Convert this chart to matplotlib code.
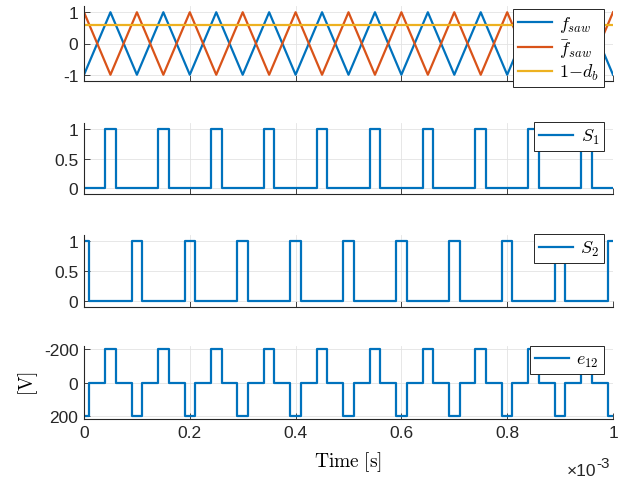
import numpy as np
import matplotlib
matplotlib.use("Agg")
import matplotlib.pyplot as plt
from matplotlib.ticker import FuncFormatter
from matplotlib.font_manager import FontProperties

plt.rcParams['font.family'] = ['Liberation Sans', 'DejaVu Sans']
plt.rcParams['mathtext.fontset'] = 'custom'
plt.rcParams['mathtext.rm'] = 'Liberation Sans'
plt.rcParams['mathtext.it'] = 'Liberation Sans:italic'
plt.rcParams['axes.unicode_minus'] = False

# carrier vertices (time in ms)
t_tri = [0.00, 0.05, 0.10, 0.15, 0.20, 0.25, 0.30, 0.35, 0.40, 0.45, 0.50,
         0.55, 0.60, 0.65, 0.70, 0.75, 0.80, 0.85, 0.90, 0.95, 1.00]
f_saw = [-1, 1, -1, 1, -1, 1, -1, 1, -1, 1, -1,
         1, -1, 1, -1, 1, -1, 1, -1, 1, -1]
fbar_saw = [1, -1, 1, -1, 1, -1, 1, -1, 1, -1, 1,
            -1, 1, -1, 1, -1, 1, -1, 1, -1, 1]
t_db = [0.0, 1.0]
one_minus_db = [0.6, 0.6]

# switching instants (ms) and levels after each instant
t_s1 = [0.00, 0.04, 0.06, 0.14, 0.16, 0.24, 0.26, 0.34, 0.36, 0.44, 0.46,
        0.54, 0.56, 0.64, 0.66, 0.74, 0.76, 0.84, 0.86, 0.94, 0.96, 1.00]
s1 = [0, 1, 0, 1, 0, 1, 0, 1, 0, 1, 0, 1, 0, 1, 0, 1, 0, 1, 0, 1, 0, 0]

t_s2 = [0.00, 0.01, 0.09, 0.11, 0.19, 0.21, 0.29, 0.31, 0.39, 0.41, 0.49,
        0.51, 0.59, 0.61, 0.69, 0.71, 0.79, 0.81, 0.89, 0.91, 0.99, 1.00]
s2 = [1, 0, 1, 0, 1, 0, 1, 0, 1, 0, 1, 0, 1, 0, 1, 0, 1, 0, 1, 0, 1, 1]

t_e12 = [0.00, 0.01, 0.04, 0.06, 0.09, 0.11, 0.14, 0.16, 0.19, 0.21, 0.24,
         0.26, 0.29, 0.31, 0.34, 0.36, 0.39, 0.41, 0.44, 0.46, 0.49, 0.51,
         0.54, 0.56, 0.59, 0.61, 0.64, 0.66, 0.69, 0.71, 0.74, 0.76, 0.79,
         0.81, 0.84, 0.86, 0.89, 0.91, 0.94, 0.96, 0.99, 1.00]
e12 = [200, 0, -200, 0, 200, 0, -200, 0, 200, 0, -200,
       0, 200, 0, -200, 0, 200, 0, -200, 0, 200, 0,
       -200, 0, 200, 0, -200, 0, 200, 0, -200, 0, 200,
       0, -200, 0, 200, 0, -200, 0, 200, 200]

blue, orange, yellow = '#0072BD', '#D95319', '#EDB120'
dark = '#262626'
ms = 1e-3

fig = plt.figure(figsize=(6.28, 4.81), dpi=100)
W, H = 628, 481
boxes = [(7, 82), (124, 195), (236, 308), (347, 420)]
axes = []
for top, bot in boxes:
    ax = fig.add_axes([84 / W, 1 - bot / H, 529 / W, (bot - top) / H])
    axes.append(ax)
ax1, ax2, ax3, ax4 = axes

lw = 1.6
ax1.plot(np.array(t_tri) * ms, f_saw, color=blue, lw=lw, label=r'$f_{saw}$')
ax1.plot(np.array(t_tri) * ms, fbar_saw, color=orange, lw=lw, label=r'$\bar{f}_{saw}$')
ax1.plot(np.array(t_db) * ms, one_minus_db, color=yellow, lw=lw, label=r'$1{-}d_b$')
ax2.plot(np.array(t_s1) * ms, s1, color=blue, lw=lw, drawstyle='steps-post', label=r'$S_1$')
ax3.plot(np.array(t_s2) * ms, s2, color=blue, lw=lw, drawstyle='steps-post', label=r'$S_2$')
ax4.plot(np.array(t_e12) * ms, e12, color=blue, lw=lw, drawstyle='steps-post', label=r'$e_{12}$')

ax1.set_ylim(-1.2, 1.2)
ax1.set_yticks([-1, 0, 1])
for ax in (ax2, ax3):
    ax.set_ylim(-0.1, 1.1)
    ax.set_yticks([0, 0.5, 1])
ax4.set_ylim(220, -220)
ax4.set_yticks([-200, 0, 200])

fmt = FuncFormatter(lambda v, p: f'{v:g}')
for ax in axes:
    ax.set_xlim(0, 1e-3)
    ax.set_xticks(np.arange(0, 1.01, 0.2) * ms)
    ax.yaxis.set_major_formatter(fmt)
    ax.grid(True, color='#e3e3e3', lw=0.6)
    ax.set_axisbelow(True)
    for s in ('top', 'right'):
        ax.spines[s].set_visible(False)
    for s in ('left', 'bottom'):
        ax.spines[s].set_color(dark)
        ax.spines[s].set_linewidth(0.8)
    ax.tick_params(direction='in', length=4, width=0.6, colors=dark,
                   labelsize=12.5, pad=4)
    if ax is not ax4:
        ax.tick_params(labelbottom=False)
ax4.xaxis.set_major_formatter(FuncFormatter(lambda v, p: f'{v / ms:g}'))

cm = {'math_fontfamily': 'cm'}
ax4.set_xlabel(r'$\mathrm{Time\ [s]}$', fontsize=14, labelpad=7, **cm)
ax4.set_ylabel(r'$\mathrm{[V]}$', fontsize=14, labelpad=3, **cm)
# axis multiplier, drawn as two pieces so the exponent keeps MATLAB's size
fig.text(596 / W, 1 - 476 / H, '\u00d710', ha='right', va='baseline',
         fontsize=12.5, color=dark)
fig.text(596 / W, 1 - 468 / H, '-3', ha='left', va='baseline',
         fontsize=11, color=dark)

leg_font = FontProperties(size=13, math_fontfamily='cm')
legends = [(ax1, 10), (ax2, 123), (ax3, 235), (ax4, 347)]
for ax, top in legends:
    lg = ax.legend(loc='upper right', bbox_to_anchor=(604 / W, 1 - top / H),
                   bbox_transform=fig.transFigure, borderaxespad=0,
                   prop=leg_font, fancybox=False, framealpha=1,
                   edgecolor=dark, handlelength=1.9, handletextpad=0.4,
                   labelspacing=0.15, borderpad=0.28)
    lg.get_frame().set_linewidth(0.7)

fig.savefig('out.png', dpi=100)
